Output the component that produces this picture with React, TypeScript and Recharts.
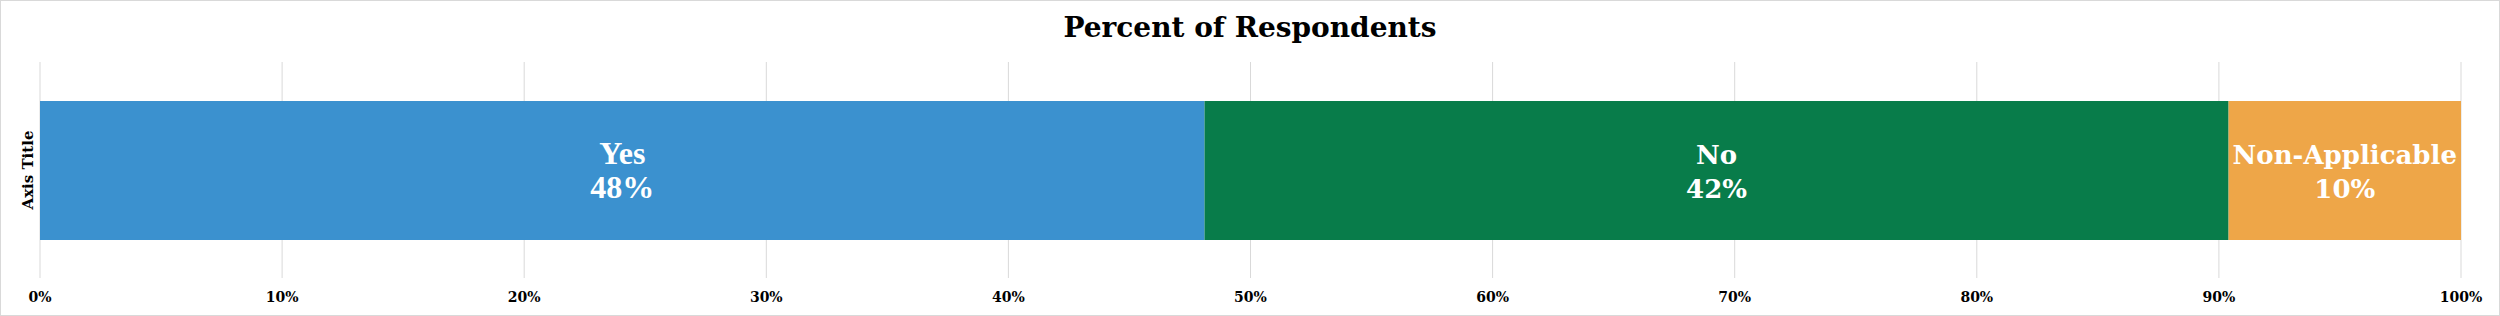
import { BarChart, Bar, XAxis, YAxis, CartesianGrid, LabelList } from "recharts";

// chart data
const categories = ["Respondents"];
const seriesNames = ["Yes", "No", "Non-Applicable"];
const seriesValues = [[48.1], [42.3], [9.6]];
const xTicks = [0, 10, 20, 30, 40, 50, 60, 70, 80, 90, 100];

const chartTitle = "Percent of Respondents";
const yAxisTitle = "Axis Title";

// styles per series
const seriesColors: Record<string, string> = {
    Yes: "#3B91CF",
    No: "#087C4A",
    "Non-Applicable": "#EEA648",
};
const labelFonts: Record<string, { family: string; size: number }> = {
    Yes: { family: "'Liberation Serif', serif", size: 32 },
    No: { family: "'DejaVu Serif', serif", size: 26 },
    "Non-Applicable": { family: "'DejaVu Serif', serif", size: 26 },
};

const serif = "'DejaVu Serif', serif";

const data = categories.map((cat, i) => {
    const row: Record<string, string | number> = { row: cat };
    seriesNames.forEach((name, s) => {
        row[name] = seriesValues[s][i];
    });
    return row;
});

function makeLabel(name: string) {
    const font = labelFonts[name];
    return (props: any) => {
        const x = Number(props.x);
        const y = Number(props.y);
        const w = Number(props.width);
        const h = Number(props.height);
        const cx = x + w / 2;
        const cy = y + h / 2;
        return (
            <text
                x={cx}
                y={cy}
                textAnchor="middle"
                fill="#ffffff"
                fontFamily={font.family}
                fontSize={font.size}
                fontWeight="bold"
            >
                <tspan x={cx} y={cy - 7}>
                    {name}
                </tspan>
                <tspan x={cx} y={cy + 27}>
                    {Math.round(Number(props.value)) + "%"}
                </tspan>
            </text>
        );
    };
}

export default function App() {
    return (
        <div style={{ position: "relative", width: 2500, height: 316, background: "#fff" }}>
            <style>{"body{margin:0}"}</style>
            <div
                style={{
                    position: "absolute",
                    top: 14,
                    left: 0,
                    width: 2500,
                    textAlign: "center",
                    fontFamily: serif,
                    fontWeight: "bold",
                    fontSize: 28,
                    lineHeight: "28px",
                    color: "#000",
                }}
            >
                {chartTitle}
            </div>
            <BarChart
                layout="vertical"
                width={2500}
                height={316}
                data={data}
                margin={{ top: 62, right: 39, left: 0, bottom: 0 }}
                barSize={139}
            >
                <CartesianGrid horizontal={false} stroke="#d9d9d9" />
                <XAxis
                    type="number"
                    domain={[0, 100]}
                    ticks={xTicks}
                    tickFormatter={(v) => v + "%"}
                    axisLine={false}
                    tickLine={false}
                    tickMargin={8}
                    height={38}
                    interval={0}
                    tick={{ fill: "#000", fontFamily: serif, fontSize: 14, fontWeight: "bold" }}
                />
                <YAxis
                    type="category"
                    dataKey="row"
                    width={40}
                    tick={false}
                    axisLine={false}
                    tickLine={false}
                    label={{
                        value: yAxisTitle,
                        angle: -90,
                        position: "center",
                        dx: 8,
                        fill: "#000",
                        fontFamily: serif,
                        fontSize: 15,
                        fontWeight: "bold",
                    }}
                />
                {seriesNames.map((name) => (
                    <Bar
                        key={name}
                        dataKey={name}
                        stackId="a"
                        fill={seriesColors[name]}
                        isAnimationActive={false}
                    >
                        <LabelList dataKey={name} content={makeLabel(name)} />
                    </Bar>
                ))}
            </BarChart>
            <div
                style={{
                    position: "absolute",
                    inset: 0,
                    border: "1px solid #d9d9d9",
                    pointerEvents: "none",
                }}
            />
        </div>
    );
}
